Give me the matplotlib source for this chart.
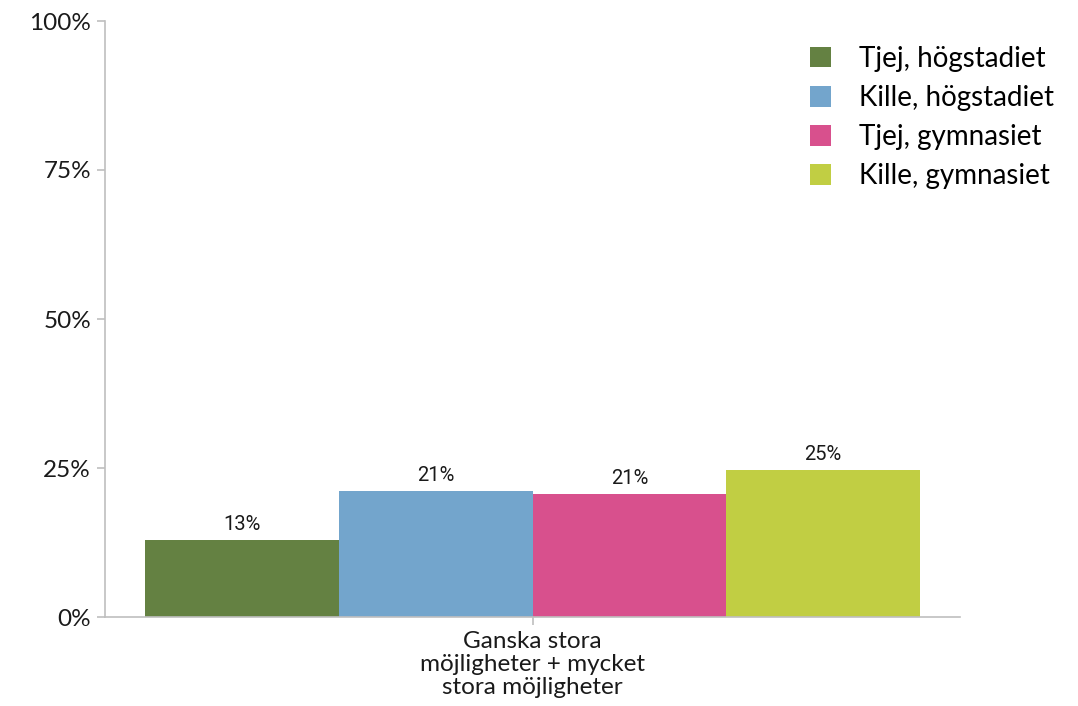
import matplotlib
matplotlib.use("Agg")
import matplotlib.pyplot as plt
from matplotlib.patches import Patch
import numpy as np

categories = ["Ganska stora\nmöjligheter + mycket\nstora möjligheter"]
series = ["Tjej, högstadiet", "Kille, högstadiet", "Tjej, gymnasiet", "Kille, gymnasiet"]
values = [12.9, 21.1, 20.6, 24.7]
labels = ["13%", "21%", "21%", "25%"]
colors = ["#648142", "#73a5cc", "#d8508d", "#c1ce43"]
yticks = [0, 25, 50, 75, 100]
ytick_labels = ["0%", "25%", "50%", "75%", "100%"]

plt.rcParams['font.family'] = ['Lato', 'DejaVu Sans']

fig = plt.figure(figsize=(10.78, 7.06), dpi=100)
ax = fig.add_axes([105/1078, 1-617/706, (960-105)/1078, (617-21)/706])

group_w = 0.906
bw = group_w / len(series)
x0 = 0
for i, (s, v, l, c) in enumerate(zip(series, values, labels, colors)):
    xpos = x0 - group_w/2 + bw*(i+0.5)
    ax.bar(xpos, v, width=bw, color=c, label=s, zorder=2)
    ax.text(xpos, v + 1.0, l, ha='center', va='bottom', fontsize=14.5,
            family=['Liberation Sans Narrow', 'Roboto', 'DejaVu Sans'], color='#1a1a1a')

ax.set_xlim(-0.5, 0.5)
ax.set_ylim(0, 100)
ax.set_yticks(yticks)
ax.set_yticklabels(ytick_labels, fontsize=17.5, color='#1a1a1a')
ax.set_xticks([0])
ax.set_xticklabels(categories, fontsize=17.5, color='#1a1a1a', linespacing=1.13)

for sp in ['top', 'right']:
    ax.spines[sp].set_visible(False)
for sp in ['left', 'bottom']:
    ax.spines[sp].set_color('#bfbfbf')
    ax.spines[sp].set_linewidth(1.2)
ax.tick_params(axis='both', color='#bfbfbf', length=6, width=1.2, pad=4)

handles = [Patch(facecolor=c, edgecolor='none') for c in colors]
leg = fig.legend(handles, series, loc='upper left', bbox_to_anchor=(785/1078, 1-21/706),
                 frameon=False, fontsize=20, handlelength=0.75, handleheight=0.75,
                 handletextpad=1.0, labelspacing=0.47)

fig.savefig("out.png", dpi=100)
